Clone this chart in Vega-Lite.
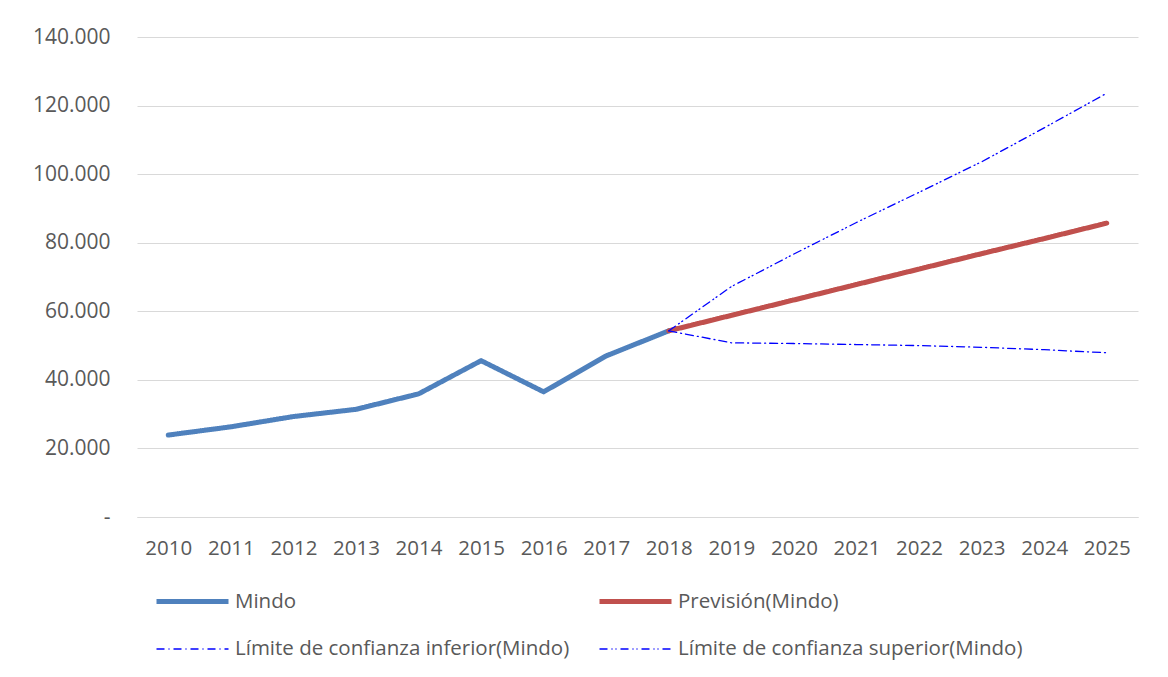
{
  "$schema": "https://vega.github.io/schema/vega-lite/v6.json",
  "autosize": {"type": "none"},
  "padding": {"left": 137, "top": 37, "right": 30, "bottom": 160},
  "width": 1001,
  "height": 480,
  "background": "white",
  "config": {
    "font": "Open Sans",
    "view": {"stroke": null},
    "axis": {"labelColor": "#595959", "labelFontSize": 20.5, "labelFont": "Open Sans", "gridColor": "#D9D9D9", "gridWidth": 1},
    "legend": {"labelColor": "#595959", "labelFontSize": 20.5, "labelFont": "Open Sans"}
  },
  "data": {
    "values": [
      {"year": "2010", "serie": "Mindo", "v": 23900},
      {"year": "2011", "serie": "Mindo", "v": 26300},
      {"year": "2012", "serie": "Mindo", "v": 29300},
      {"year": "2013", "serie": "Mindo", "v": 31400},
      {"year": "2014", "serie": "Mindo", "v": 35900},
      {"year": "2015", "serie": "Mindo", "v": 45600},
      {"year": "2016", "serie": "Mindo", "v": 36500},
      {"year": "2017", "serie": "Mindo", "v": 47000},
      {"year": "2018", "serie": "Mindo", "v": 54300},
      {"year": "2018", "serie": "Previsión(Mindo)", "v": 54300},
      {"year": "2019", "serie": "Previsión(Mindo)", "v": 58800},
      {"year": "2020", "serie": "Previsión(Mindo)", "v": 63300},
      {"year": "2021", "serie": "Previsión(Mindo)", "v": 67800},
      {"year": "2022", "serie": "Previsión(Mindo)", "v": 72300},
      {"year": "2023", "serie": "Previsión(Mindo)", "v": 76800},
      {"year": "2024", "serie": "Previsión(Mindo)", "v": 81200},
      {"year": "2025", "serie": "Previsión(Mindo)", "v": 85700},
      {"year": "2018", "serie": "Límite de confianza inferior(Mindo)", "v": 54300},
      {"year": "2019", "serie": "Límite de confianza inferior(Mindo)", "v": 50800},
      {"year": "2020", "serie": "Límite de confianza inferior(Mindo)", "v": 50600},
      {"year": "2021", "serie": "Límite de confianza inferior(Mindo)", "v": 50300},
      {"year": "2022", "serie": "Límite de confianza inferior(Mindo)", "v": 50000},
      {"year": "2023", "serie": "Límite de confianza inferior(Mindo)", "v": 49500},
      {"year": "2024", "serie": "Límite de confianza inferior(Mindo)", "v": 48800},
      {"year": "2025", "serie": "Límite de confianza inferior(Mindo)", "v": 47900},
      {"year": "2018", "serie": "Límite de confianza superior(Mindo)", "v": 54300},
      {"year": "2019", "serie": "Límite de confianza superior(Mindo)", "v": 67200},
      {"year": "2020", "serie": "Límite de confianza superior(Mindo)", "v": 76700},
      {"year": "2021", "serie": "Límite de confianza superior(Mindo)", "v": 85900},
      {"year": "2022", "serie": "Límite de confianza superior(Mindo)", "v": 94700},
      {"year": "2023", "serie": "Límite de confianza superior(Mindo)", "v": 103600},
      {"year": "2024", "serie": "Límite de confianza superior(Mindo)", "v": 113500},
      {"year": "2025", "serie": "Límite de confianza superior(Mindo)", "v": 123600}
    ]
  },
  "mark": {"type": "line", "strokeCap": "round", "strokeJoin": "round"},
  "encoding": {
    "x": {
      "field": "year", "type": "ordinal",
      "scale": {"type": "point", "padding": 0.5},
      "axis": {"title": null, "labelAngle": 0, "ticks": false, "domainColor": "#D9D9D9", "domainWidth": 1, "labelPadding": 21, "grid": false}
    },
    "y": {
      "field": "v", "type": "quantitative",
      "scale": {"domain": [0, 140000], "nice": false},
      "axis": {
        "title": null, "domain": false, "ticks": false, "labelPadding": 27, "labelFontSize": 21,
        "values": [0, 20000, 40000, 60000, 80000, 100000, 120000, 140000],
        "labelExpr": "datum.value == 0 ? '-\u00a0\u00a0' : replace(format(datum.value, ',d'), ',', '.')"
      }
    },
    "color": {
      "field": "serie", "type": "nominal",
      "scale": {
        "domain": ["Mindo", "Previsión(Mindo)", "Límite de confianza inferior(Mindo)", "Límite de confianza superior(Mindo)"],
        "range": ["#4F81BD", "#C0504D", "#0000FF", "#0000FF"]
      },
      "legend": {
        "title": null, "orient": "none", "legendX": 17, "legendY": 526, "direction": "horizontal",
        "columns": 2, "columnPadding": 19, "rowPadding": -2, "labelLimit": 600,
        "symbolType": "stroke", "symbolSize": 5184, "labelOffset": 4
      }
    },
    "strokeDash": {
      "field": "serie", "type": "nominal",
      "scale": {
        "domain": ["Mindo", "Previsión(Mindo)", "Límite de confianza inferior(Mindo)", "Límite de confianza superior(Mindo)"],
        "range": [[1, 0], [1, 0], [8, 4, 1, 4], [8, 4, 1, 3, 1, 4]]
      },
      "legend": {
        "title": null, "orient": "none", "legendX": 17, "legendY": 526, "direction": "horizontal",
        "columns": 2, "columnPadding": 19, "rowPadding": -2, "labelLimit": 600,
        "symbolType": "stroke", "symbolSize": 5184, "labelOffset": 4
      }
    },
    "strokeWidth": {
      "field": "serie", "type": "nominal",
      "scale": {
        "type": "ordinal",
        "domain": ["Mindo", "Previsión(Mindo)", "Límite de confianza inferior(Mindo)", "Límite de confianza superior(Mindo)"],
        "range": [5, 5, 1.3, 1.3]
      },
      "legend": {
        "title": null, "orient": "none", "legendX": 17, "legendY": 526, "direction": "horizontal",
        "columns": 2, "columnPadding": 19, "rowPadding": -2, "labelLimit": 600,
        "symbolType": "stroke", "symbolSize": 5184, "labelOffset": 4
      }
    }
  }
}
